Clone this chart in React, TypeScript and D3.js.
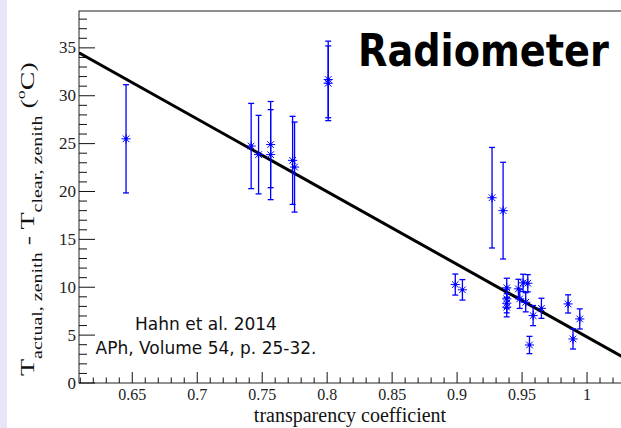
import React from "react";
import * as d3 from "d3";

// ---- data ----
const xValues = [
  0.6452, 0.7415, 0.7472, 0.7565, 0.7565, 0.7734, 0.7749, 0.8008, 0.8008,
  0.9269, 0.9354, 0.8986, 0.9041, 0.9382, 0.9382, 0.9382, 0.9382, 0.9472,
  0.9508, 0.9544, 0.9482, 0.9528, 0.9585, 0.9649, 0.9557, 0.9854, 0.9944, 0.9892,
];
const yValues = [
  25.5, 24.75, 23.85, 24.9, 23.85, 23.25, 22.55, 31.7, 31.3,
  19.35, 18.0, 10.28, 9.73, 9.94, 8.79, 8.33, 7.91, 9.83,
  10.46, 10.42, 8.79, 8.43, 7.04, 7.8, 3.97, 8.26, 6.69, 4.6,
];
const yErrors = [
  5.65, 4.45, 4.1, 4.5, 4.7, 4.6, 4.7, 4.0, 3.9,
  5.25, 5.05, 1.1, 1.07, 1.0, 1.0, 1.0, 1.0, 1.0,
  0.9, 0.9, 1.0, 1.0, 1.05, 1.05, 0.9, 0.95, 1.05, 1.05,
];
const fitIntercept = 80.7;
const fitSlope = -75.9;

const xTickLabels = ["0.65", "0.7", "0.75", "0.8", "0.85", "0.9", "0.95", "1"];
const yTickLabels = ["0", "5", "10", "15", "20", "25", "30", "35"];

const titleText = "Radiometer";
const citationLines = ["Hahn et al. 2014", "APh, Volume 54, p. 25-32."];
const xAxisTitle = "transparency coefficient";

// ---- layout ----
const W = 621;
const H = 428;
const left = 79;
const right = 652;
const top = 11;
const bottom = 383;

export default function App() {
  const x = d3.scaleLinear().domain([0.609, 1.05]).range([left, right]);
  const y = d3.scaleLinear().domain([0, 38.85]).range([bottom, top]);

  const xMinor = d3.range(61, 106).map((v) => v / 100);
  const yMinor = d3.range(0, 39).map((v) => v);

  const fitData: [number, number][] = [0.609, 1.05].map((v) => [v, fitIntercept + fitSlope * v]);
  const line = d3
    .line<[number, number]>()
    .x((d) => x(d[0]))
    .y((d) => y(d[1]));

  const blue = "#0000ff";
  const serif = "'Liberation Serif', 'Times New Roman', serif";
  const sans = "'DejaVu Sans', sans-serif";
  const s = 4.6;
  const sd = 3.3;

  return (
    <svg
      width={W}
      height={H}
      style={{ position: "absolute", left: 0, top: 0, display: "block", background: "#fff" }}
    >
      <rect x={0} y={0} width={W} height={H} fill="#ffffff" />
      <rect x={0} y={0} width={7} height={H} fill="#e6e6f8" />
      <defs>
        <clipPath id="plotclip">
          <rect x={left} y={top} width={right - left} height={bottom - top} />
        </clipPath>
      </defs>

      {/* frame */}
      <rect x={left} y={top} width={right - left} height={bottom - top} fill="none" stroke="#222" strokeWidth={1} />

      {/* y ticks */}
      {yMinor.map((v) => {
        const major = v % 5 === 0;
        return (
          <line key={"ym" + v} x1={left} x2={left + (major ? 16 : 8)} y1={y(v)} y2={y(v)} stroke="#111" strokeWidth={1} />
        );
      })}
      {/* x ticks */}
      {xMinor.map((v, i) => {
        const major = (61 + i) % 5 === 0;
        return (
          <line key={"xm" + i} x1={x(v)} x2={x(v)} y1={bottom} y2={bottom - (major ? 11 : 5.5)} stroke="#111" strokeWidth={1} />
        );
      })}

      {/* tick labels */}
      {xTickLabels.map((t) => (
        <text key={"xl" + t} x={x(+t)} y={400} textAnchor="middle" fontFamily={serif} fontSize={16} fill="#222">
          {t}
        </text>
      ))}
      {yTickLabels.map((t) => (
        <text key={"yl" + t} x={76} y={y(+t) + 5.5} textAnchor="end" fontFamily={serif} fontSize={17} fill="#222">
          {t}
        </text>
      ))}

      {/* axis titles */}
      <text x={350} y={421.5} textAnchor="middle" fontFamily={serif} fontSize={20} fill="#111">
        {xAxisTitle}
      </text>
      <text transform="translate(34,376) scale(0.7,1) rotate(-90)" fontFamily={serif} fontSize={28} fill="#111">
        <tspan>T</tspan>
        <tspan fontSize={20} dy={11}>actual, zenith</tspan>
        <tspan dy={-11}> - T</tspan>
        <tspan fontSize={20} dy={11}>clear, zenith</tspan>
        <tspan dy={-11}> (</tspan>
        <tspan fontSize={18} dy={-13}>o</tspan>
        <tspan dy={13}>C)</tspan>
      </text>

      {/* fit line */}
      <g clipPath="url(#plotclip)">
        <path d={line(fitData) || ""} fill="none" stroke="#000" strokeWidth={3} />
      </g>

      {/* data points with error bars */}
      <g clipPath="url(#plotclip)">
        {xValues.map((xv, i) => {
          const cx = x(xv);
          const cy = y(yValues[i]);
          const y1 = y(yValues[i] + yErrors[i]);
          const y2 = y(yValues[i] - yErrors[i]);
          return (
            <g key={"p" + i}>
              <line x1={cx} x2={cx} y1={y1} y2={y2} stroke={blue} strokeWidth={1.3} />
              <line x1={cx - 3} x2={cx + 3} y1={y1} y2={y1} stroke={blue} strokeWidth={1.3} />
              <line x1={cx - 3} x2={cx + 3} y1={y2} y2={y2} stroke={blue} strokeWidth={1.3} />
              <path
                d={`M${cx - s},${cy}L${cx + s},${cy}M${cx},${cy - s}L${cx},${cy + s}M${cx - sd},${cy - sd}L${cx + sd},${cy + sd}M${cx - sd},${cy + sd}L${cx + sd},${cy - sd}`}
                stroke={blue}
                strokeWidth={1}
                fill="none"
              />
              <circle cx={cx} cy={cy} r={1.7} fill={blue} />
            </g>
          );
        })}
      </g>

      {/* title & citation */}
      <text transform="translate(358,66) scale(0.85,1)" fontFamily={sans} fontWeight="bold" fontSize={45} fill="#000">
        {titleText}
      </text>
      {citationLines.map((t, i) => (
        <text key={"c" + i} x={206} y={330 + i * 24} textAnchor="middle" fontFamily={sans} fontSize={17} fill="#111">
          {t}
        </text>
      ))}
    </svg>
  );
}
